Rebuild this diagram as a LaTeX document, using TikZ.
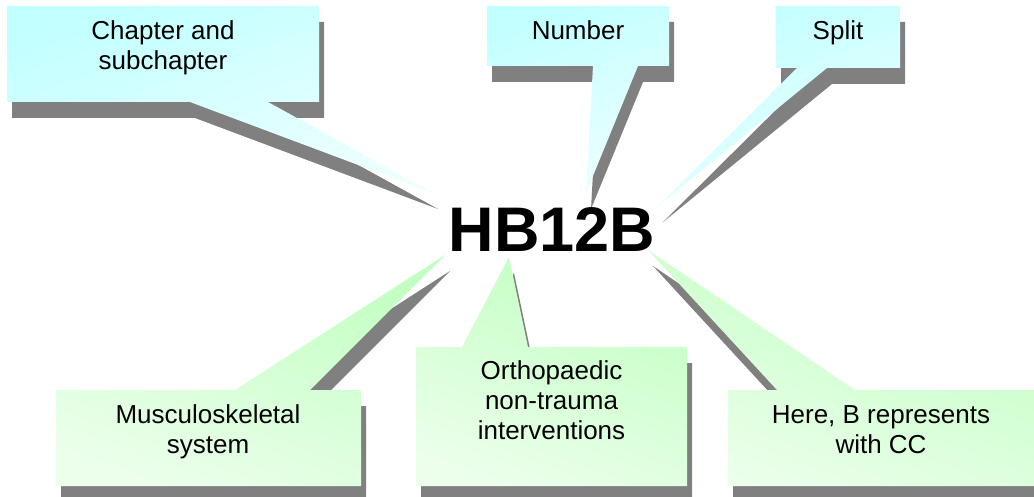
\documentclass[tikz,border=0pt]{standalone}
\usepackage{fontspec}
\setmainfont{Liberation Sans}
\usetikzlibrary{shadows}

\begin{document}
\begin{tikzpicture}[x=1pt,y=-1pt,
    shadowed/.style={drop shadow={shadow xshift=5pt,shadow yshift=-16pt,opacity=1,fill=black!50}},
    bluecall/.style={shadowed,top color=cyan!24,bottom color=cyan!7,shading angle=20},
    greencall/.style={shadowed,top color=green!24,bottom color=green!8,shading angle=-20},
    lbl/.style={font=\fontsize{26}{30}\selectfont,align=center,inner sep=0pt}]
  \useasboundingbox (0,0) rectangle (1034,497);
  % upper callouts
  \path[bluecall] (7,6) -- (319,6) -- (319,102) -- (268,102) -- (433,193)
      -- (190,102) -- (7,102) -- cycle;
  \path[bluecall] (487,6) -- (669,6) -- (669,66) -- (638,66) -- (586,193)
      -- (593,66) -- (487,66) -- cycle;
  \path[bluecall] (776,6) -- (900,6) -- (900,68) -- (827,68) -- (657,207)
      -- (797,68) -- (776,68) -- cycle;
  % lower callouts
  \path[greencall] (56,390) -- (235,390) -- (445,255) -- (310,390) -- (361,390)
      -- (361,486) -- (56,486) -- cycle;
  \path[greencall] (416,347) -- (462,347) -- (509,257) -- (528,347) -- (687,347)
      -- (687,486) -- (416,486) -- cycle;
  \path[greencall] (728,390) -- (777,390) -- (648,250) -- (855,390) -- (1040,390)
      -- (1040,486) -- (728,486) -- cycle;
  % texts
  \node[font=\fontsize{63}{70}\selectfont\bfseries,inner sep=0pt] (code) at (552,229.5) {HB12B};
  \node[lbl] (chap) at (163,48) {Chapter and\\subchapter};
  \node[lbl] (num) at (578,30.5) {Number};
  \node[lbl] (split) at (838,33) {Split};
  \node[lbl] (musc) at (208,432) {Musculoskeletal\\system};
  \node[lbl] (ortho) at (551.5,400.5) {Orthopaedic\\non-trauma\\interventions};
  \node[lbl] (here) at (881,429.5) {Here, B represents\\with CC};
\end{tikzpicture}
\end{document}
